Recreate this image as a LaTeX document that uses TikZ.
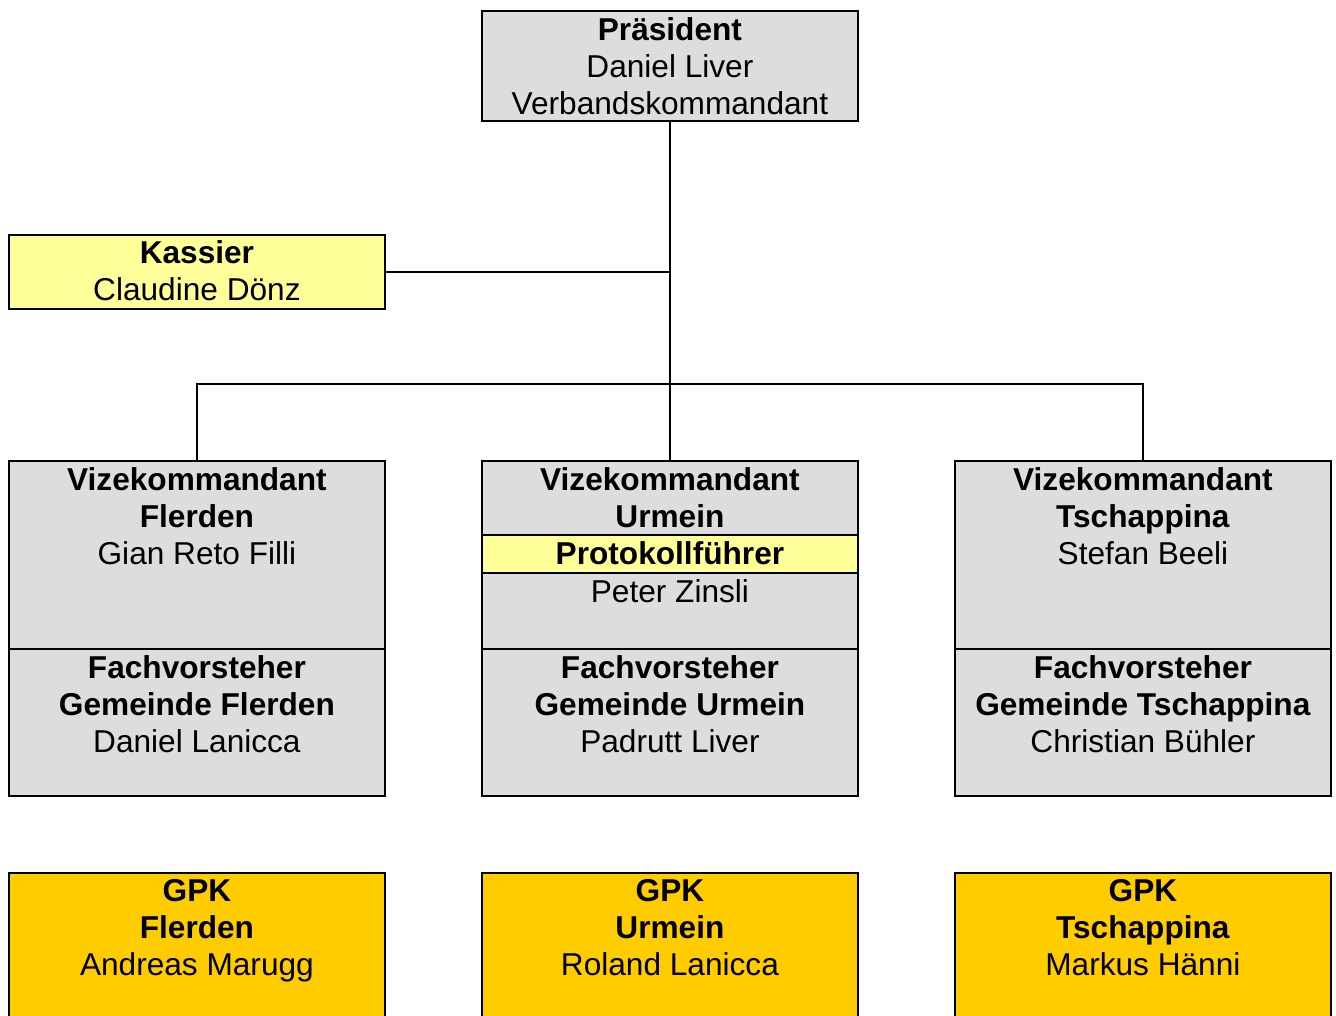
\documentclass[tikz,border=0pt]{standalone}
\usepackage{fontspec}
\setmainfont{Liberation Sans}
\usepackage{tikz}
\usetikzlibrary{positioning,calc}
\definecolor{boxgray}{HTML}{DDDDDD}
\definecolor{paleyellow}{HTML}{FFFF99}
\definecolor{gpkgold}{HTML}{FFCC00}

\begin{document}
\begin{tikzpicture}[x=0.02cm,y=-0.02cm,
    box/.style={draw,rectangle,line width=1.1pt,anchor=north west,minimum width=7.52cm,inner sep=0pt},
    graybox/.style={box,fill=boxgray},
    yellowbox/.style={box,fill=paleyellow},
    gpkbox/.style={box,fill=gpkgold,minimum height=3.3cm},
    txt/.style={align=center,inner sep=0pt,anchor=north,font=\fontsize{18}{21.2}\selectfont},
    conn/.style={line width=1.1pt}]
        \useasboundingbox (0,0) rectangle (1336,1016);
        \clip (0,0) rectangle (1336,1016);
        % top and kassier
        \node[graybox,minimum height=2.2cm] (praes) at (481,10) {};
        \node[yellowbox,minimum height=1.48cm] (kassier) at (8,234) {};
        % vize boxes
        \node[graybox,minimum height=3.76cm] (vizeF) at (8,460) {};
        \node[graybox,minimum height=2.94cm] (fachF) at (8,648) {};
        \node[graybox,minimum height=1.48cm] (vizeU) at (481,460) {};
        \node[yellowbox,minimum height=0.76cm] (protU) at (481,534) {};
        \node[graybox,minimum height=1.52cm] (zinsliU) at (481,572) {};
        \node[graybox,minimum height=2.94cm] (fachU) at (481,648) {};
        \node[graybox,minimum height=3.76cm] (vizeT) at (954,460) {};
        \node[graybox,minimum height=2.94cm] (fachT) at (954,648) {};
        % gpk
        \node[gpkbox] (gpkF) at (8,872) {};
        \node[gpkbox] (gpkU) at (481,872) {};
        \node[gpkbox] (gpkT) at (954,872) {};

        % texts
        \node[txt] (praesT) at ([yshift=-0.14cm]praes.north) {\textbf{Präsident}\\Daniel Liver\\Verbandskommandant};
        \node[txt] (kassierT) at ([yshift=-0.12cm]kassier.north) {\textbf{Kassier}\\Claudine Dönz};
        \node[txt] (vizeFT) at ([yshift=-0.14cm]vizeF.north) {\textbf{Vizekommandant}\\\textbf{Flerden}\\Gian Reto Filli};
        \node[txt] (fachFT) at ([yshift=-0.14cm]fachF.north) {\textbf{Fachvorsteher}\\\textbf{Gemeinde Flerden}\\Daniel Lanicca};
        \node[txt] (vizeUT) at ([yshift=-0.14cm]vizeU.north) {\textbf{Vizekommandant}\\\textbf{Urmein}};
        \node[txt] (protUT) at ([yshift=-0.14cm]protU.north) {\textbf{Protokollführer}};
        \node[txt] (zinsliUT) at ([yshift=-0.14cm]zinsliU.north) {Peter Zinsli};
        \node[txt] (fachUT) at ([yshift=-0.14cm]fachU.north) {\textbf{Fachvorsteher}\\\textbf{Gemeinde Urmein}\\Padrutt Liver};
        \node[txt] (vizeTT) at ([yshift=-0.14cm]vizeT.north) {\textbf{Vizekommandant}\\\textbf{Tschappina}\\Stefan Beeli};
        \node[txt] (fachTT) at ([yshift=-0.14cm]fachT.north) {\textbf{Fachvorsteher}\\\textbf{Gemeinde Tschappina}\\Christian Bühler};
        \node[txt] (gpkFT) at ([yshift=-0.14cm]gpkF.north) {\textbf{GPK}\\\textbf{Flerden}\\Andreas Marugg};
        \node[txt] (gpkUT) at ([yshift=-0.14cm]gpkU.north) {\textbf{GPK}\\\textbf{Urmein}\\Roland Lanicca};
        \node[txt] (gpkTT) at ([yshift=-0.14cm]gpkT.north) {\textbf{GPK}\\\textbf{Tschappina}\\Markus Hänni};

        % connectors
        \coordinate (branch) at (praes.south |- 0,384);
        \draw[conn] (praes.south) -- (vizeU.north);
        \draw[conn] (kassier.east) -- (kassier.east -| praes.south);
        \draw[conn] (vizeF.north) |- (branch) -| (vizeT.north);
\end{tikzpicture}
\end{document}
